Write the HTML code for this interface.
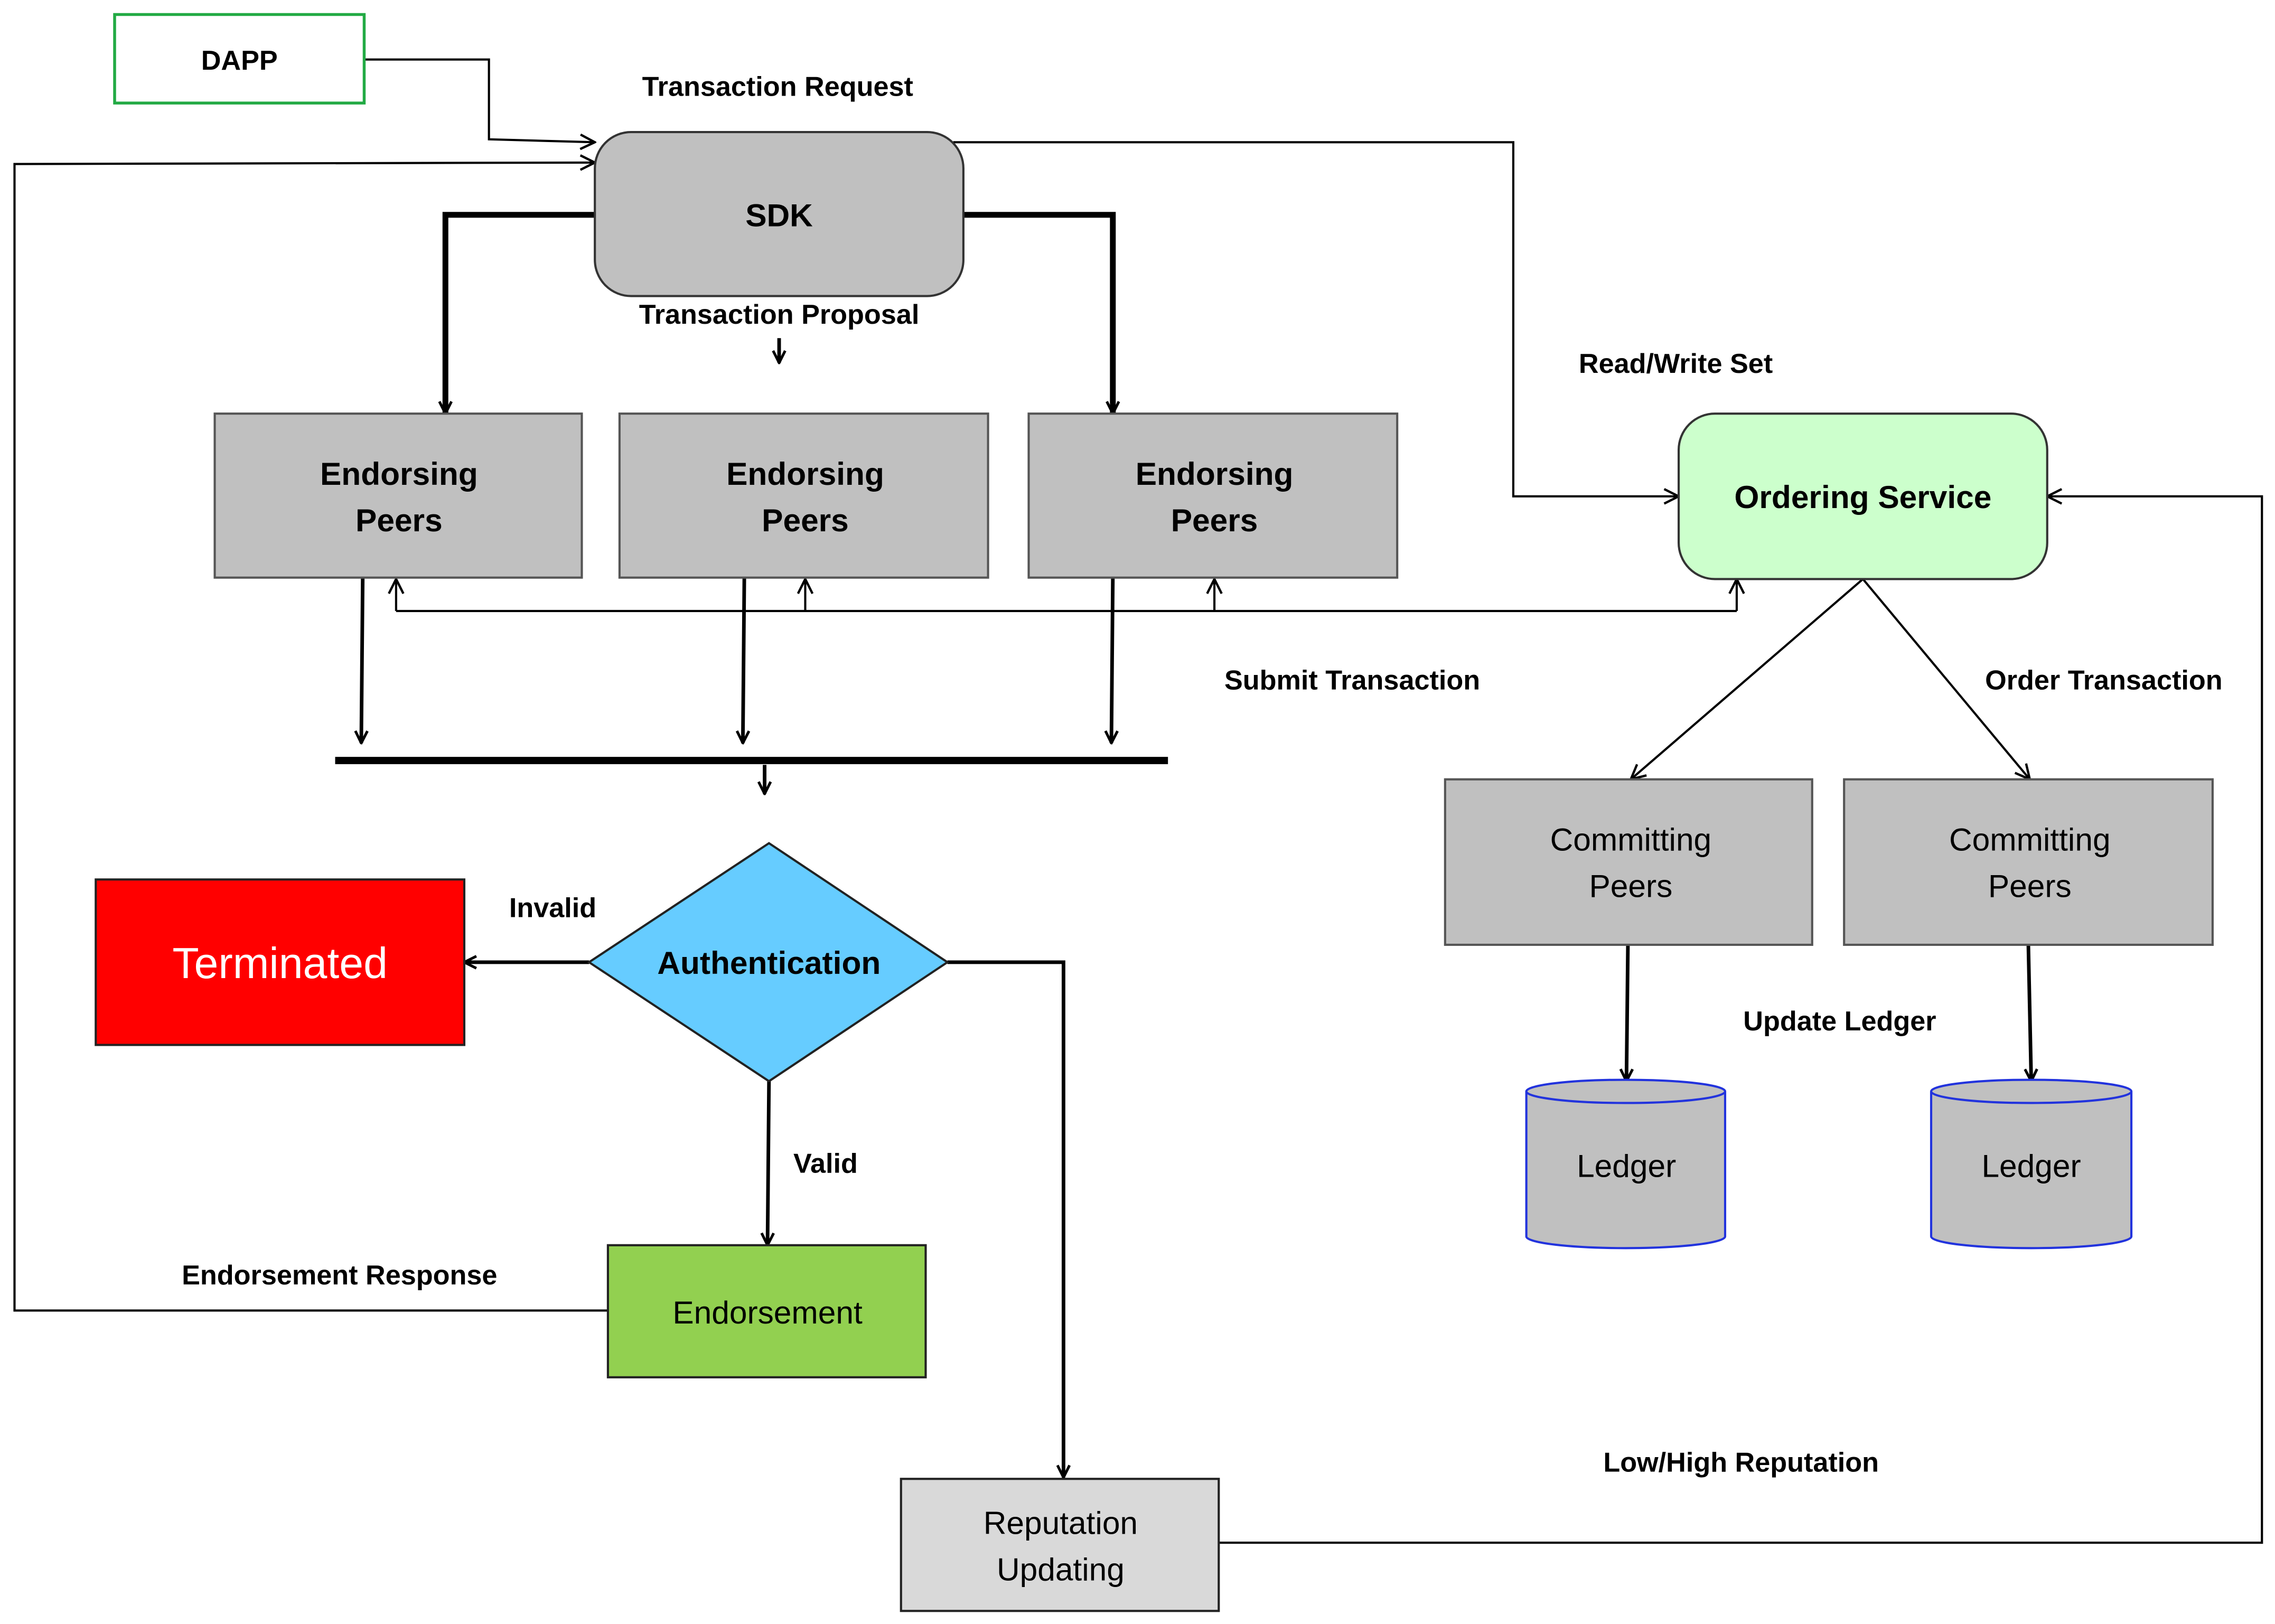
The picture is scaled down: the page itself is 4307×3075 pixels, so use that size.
<!DOCTYPE html>
<html><head><meta charset="utf-8"><style>
html,body{margin:0;padding:0;background:#fff;}
svg{display:block;}
text{font-family:"Liberation Sans",sans-serif;}
.b{font-weight:bold;font-size:19px;}
</style></head><body>
<svg width="4307" height="3075" viewBox="0 0 1568 1119" preserveAspectRatio="none" xmlns="http://www.w3.org/2000/svg">
<defs>
<marker id="a" viewBox="0 0 12 12" refX="11" refY="6" markerWidth="12" markerHeight="12" markerUnits="userSpaceOnUse" orient="auto">
<polyline points="1,1 11,6 1,11" fill="none" stroke="#000" stroke-width="1.6"/></marker>
<marker id="t" viewBox="0 0 12 12" refX="11" refY="6" markerWidth="10" markerHeight="10" markerUnits="userSpaceOnUse" orient="auto">
<polyline points="1,1 11,6 1,11" fill="none" stroke="#000" stroke-width="2.2"/></marker>
<marker id="T" viewBox="0 0 12 12" refX="11" refY="6" markerWidth="6" markerHeight="6" markerUnits="strokeWidth" orient="auto">
<polyline points="1,1 11,6 1,11" fill="none" stroke="#000" stroke-width="2"/></marker>
</defs>
<g fill="none" stroke="#000" stroke-width="1.5">
<polyline points="251,41 337,41 337,96 410,98" marker-end="url(#a)"/>
<polyline points="425,903 10,903 10,113 410,112" marker-end="url(#a)"/>
<polyline points="657,98 1043,98 1043,342 1157,342" marker-end="url(#a)"/>
<polyline points="273,421 1197,421"/>
<line x1="273" y1="421" x2="273" y2="399" marker-end="url(#a)"/>
<line x1="555" y1="421" x2="555" y2="399" marker-end="url(#a)"/>
<line x1="837" y1="421" x2="837" y2="399" marker-end="url(#a)"/>
<line x1="1197" y1="421" x2="1197" y2="399" marker-end="url(#a)"/>
<polyline points="840,1063 1559,1063 1559,342 1411,342" marker-end="url(#a)"/>
<line x1="1284" y1="399" x2="1124" y2="537" marker-end="url(#a)"/>
<line x1="1284" y1="399" x2="1399" y2="537" marker-end="url(#a)"/>
</g>
<g fill="none" stroke="#000" stroke-width="2.5">
<line x1="537" y1="233" x2="537" y2="250" marker-end="url(#t)"/>
<line x1="250" y1="398" x2="249" y2="512" marker-end="url(#t)"/>
<line x1="513" y1="398" x2="512" y2="512" marker-end="url(#t)"/>
<line x1="767" y1="398" x2="766" y2="512" marker-end="url(#t)"/>
<line x1="527" y1="527" x2="527" y2="547" marker-end="url(#t)"/>
<line x1="406" y1="663" x2="320" y2="663" marker-end="url(#t)"/>
<line x1="530" y1="745" x2="529" y2="858" marker-end="url(#t)"/>
<polyline points="653,663 733,663 733,1018" marker-end="url(#t)"/>
<line x1="1122" y1="651" x2="1121" y2="745" marker-end="url(#t)"/>
<line x1="1398" y1="651" x2="1400" y2="745" marker-end="url(#t)"/>
</g>
<g fill="none" stroke="#000" stroke-width="4">
<polyline points="410,148 307,148 307,285" marker-end="url(#t)"/>
<polyline points="664,148 767,148 767,285" marker-end="url(#t)"/>
<line x1="231" y1="524" x2="805" y2="524" stroke-width="5"/>
</g>
<rect x="79" y="10" width="172" height="61" fill="#fff" stroke="#22aa44" stroke-width="2"/>
<text x="165" y="48" text-anchor="middle" class="b">DAPP</text>
<rect x="410" y="91" width="254" height="113" rx="25" fill="#c0c0c0" stroke="#333" stroke-width="1.5"/>
<text x="537" y="156" text-anchor="middle" class="b" font-size="22" style="font-size:22px">SDK</text>
<g fill="#c0c0c0" stroke="#555" stroke-width="1.5">
<rect x="148" y="285" width="253" height="113"/>
<rect x="427" y="285" width="254" height="113"/>
<rect x="709" y="285" width="254" height="113"/>
<rect x="996" y="537" width="253" height="114"/>
<rect x="1271" y="537" width="254" height="114"/>
</g>
<g class="b" style="font-size:22px" text-anchor="middle">
<text x="275" y="334">Endorsing</text><text x="275" y="366">Peers</text>
<text x="555" y="334">Endorsing</text><text x="555" y="366">Peers</text>
<text x="837" y="334">Endorsing</text><text x="837" y="366">Peers</text>
</g>
<g style="font-size:22px" text-anchor="middle">
<text x="1124" y="586">Committing</text><text x="1124" y="618">Peers</text>
<text x="1399" y="586">Committing</text><text x="1399" y="618">Peers</text>
</g>
<rect x="1157" y="285" width="254" height="114" rx="25" fill="#ccffcc" stroke="#333" stroke-width="1.5"/>
<text x="1284" y="350" text-anchor="middle" class="b" style="font-size:22px">Ordering Service</text>
<polygon points="530,581 653,663 530,745 406,663" fill="#66ccff" stroke="#222" stroke-width="1.5"/>
<text x="530" y="671" text-anchor="middle" class="b" style="font-size:22px">Authentication</text>
<rect x="66" y="606" width="254" height="114" fill="#ff0000" stroke="#222" stroke-width="1.5"/>
<text x="193" y="674" text-anchor="middle" fill="#fff" style="font-size:30px">Terminated</text>
<rect x="419" y="858" width="219" height="91" fill="#92d050" stroke="#222" stroke-width="1.5"/>
<text x="529" y="912" text-anchor="middle" style="font-size:22px">Endorsement</text>
<rect x="621" y="1019" width="219" height="91" fill="#d9d9d9" stroke="#222" stroke-width="1.5"/>
<text x="731" y="1057" text-anchor="middle" style="font-size:22px">Reputation</text>
<text x="731" y="1089" text-anchor="middle" style="font-size:22px">Updating</text>
<g fill="#c0c0c0" stroke="#2233dd" stroke-width="1.5">
<path d="M1052,752 L1052,852 A68.5,8 0 0 0 1189,852 L1189,752"/>
<ellipse cx="1120.5" cy="752" rx="68.5" ry="8"/>
<path d="M1331,752 L1331,852 A69,8 0 0 0 1469,852 L1469,752"/>
<ellipse cx="1400" cy="752" rx="69" ry="8"/>
</g>
<text x="1121" y="811" text-anchor="middle" style="font-size:22px">Ledger</text>
<text x="1400" y="811" text-anchor="middle" style="font-size:22px">Ledger</text>
<g class="b" text-anchor="middle">
<text x="536" y="66">Transaction Request</text>
<text x="537" y="223">Transaction Proposal</text>
<text x="1155" y="257">Read/Write Set</text>
<text x="932" y="475">Submit Transaction</text>
<text x="1450" y="475">Order Transaction</text>
<text x="381" y="632">Invalid</text>
<text x="569" y="808">Valid</text>
<text x="234" y="885">Endorsement Response</text>
<text x="1268" y="710">Update Ledger</text>
<text x="1200" y="1014">Low/High Reputation</text>
</g>
</svg>
</body></html>
